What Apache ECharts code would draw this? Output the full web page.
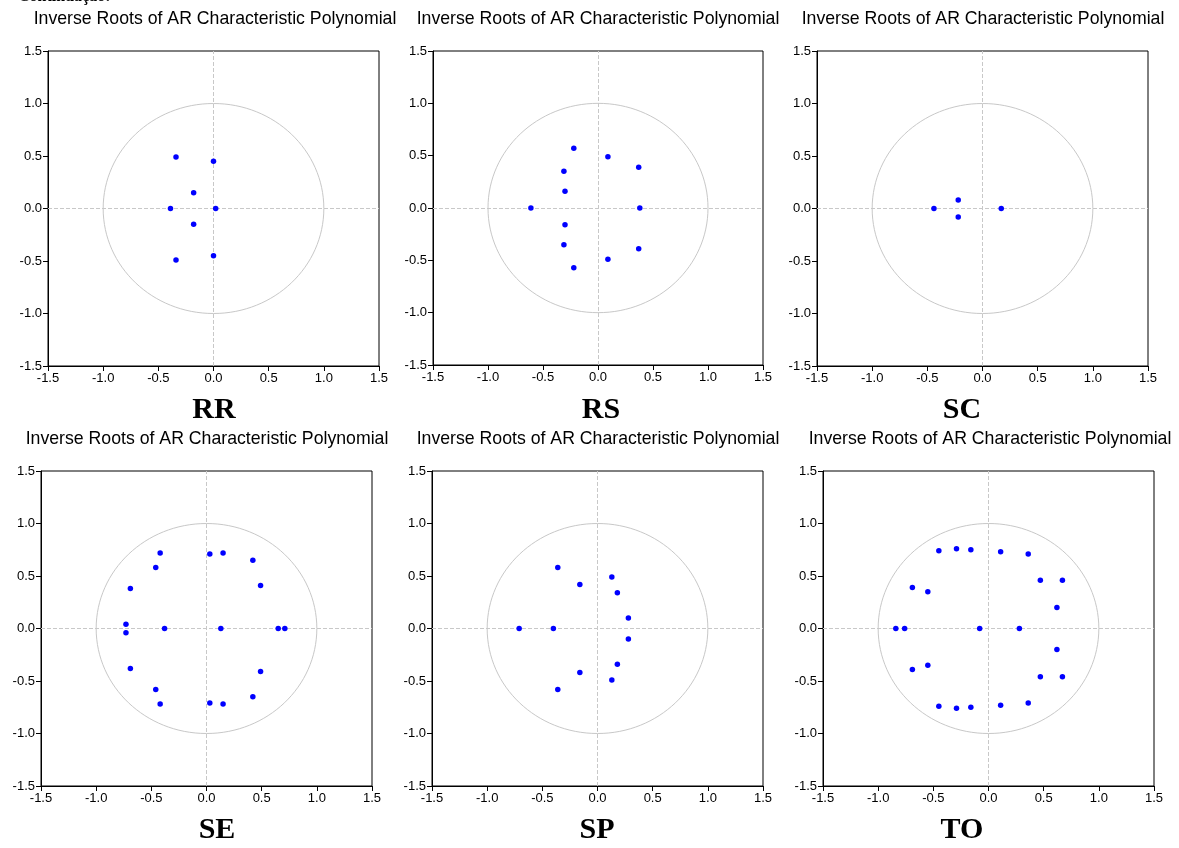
<!DOCTYPE html>
<html>
<head>
<meta charset="utf-8">
<script src="https://cdn.jsdelivr.net/npm/echarts@6/dist/echarts.min.js"></script>
<style>
html,body{margin:0;padding:0;background:#fff;}
#chart{width:1179px;height:848px;}
</style>
</head>
<body>
<div id="chart"></div>
<script>
const panelNames = ['RR', 'RS', 'SC', 'SE', 'SP', 'TO'];
const chartTitle = 'Inverse Roots of AR Characteristic Polynomial';
const headerText = 'Continuação:';
const tickValues = [-1.5, -1.0, -0.5, 0.0, 0.5, 1.0, 1.5];

const rootsRR = [
  [-0.34, 0.49], [-0.34, -0.49], [0.00, 0.45], [0.00, -0.45],
  [-0.18, 0.15], [-0.18, -0.15], [-0.39, 0.00], [0.02, 0.00]
];
const rootsRS = [
  [-0.22, 0.57], [-0.22, -0.57], [0.09, 0.49], [0.09, -0.49],
  [0.37, 0.39], [0.37, -0.39], [-0.31, 0.35], [-0.31, -0.35],
  [-0.30, 0.16], [-0.30, -0.16], [-0.61, 0.00], [0.38, 0.00]
];
const rootsSC = [
  [-0.44, 0.00], [-0.22, 0.08], [-0.22, -0.08], [0.17, 0.00]
];
const rootsSE = [
  [-0.42, 0.72], [-0.42, -0.72], [0.03, 0.71], [0.03, -0.71],
  [0.15, 0.72], [0.15, -0.72], [0.42, 0.65], [0.42, -0.65],
  [-0.46, 0.58], [-0.46, -0.58], [-0.69, 0.38], [-0.69, -0.38],
  [0.49, 0.41], [0.49, -0.41], [-0.73, 0.04], [-0.73, -0.04],
  [-0.38, 0.00], [0.13, 0.00], [0.65, 0.00], [0.71, 0.00]
];
const rootsSP = [
  [-0.36, 0.58], [-0.36, -0.58], [-0.16, 0.42], [-0.16, -0.42],
  [0.13, 0.49], [0.13, -0.49], [0.18, 0.34], [0.18, -0.34],
  [0.28, 0.10], [0.28, -0.10], [-0.71, 0.00], [-0.40, 0.00]
];
const rootsTO = [
  [-0.45, 0.74], [-0.45, -0.74], [-0.29, 0.76], [-0.29, -0.76],
  [-0.16, 0.75], [-0.16, -0.75], [0.11, 0.73], [0.11, -0.73],
  [0.36, 0.71], [0.36, -0.71], [-0.69, 0.39], [-0.69, -0.39],
  [-0.55, 0.35], [-0.55, -0.35], [0.47, 0.46], [0.47, -0.46],
  [0.67, 0.46], [0.67, -0.46], [0.62, 0.20], [0.62, -0.20],
  [-0.84, 0.00], [-0.76, 0.00], [-0.08, 0.00], [0.28, 0.00]
];
const allRoots = [rootsRR, rootsRS, rootsSC, rootsSE, rootsSP, rootsTO];

// ---- layout ----
const grids = [
  {left: 48, top: 51, width: 331, height: 315},
  {left: 433, top: 51, width: 330, height: 314},
  {left: 817, top: 51, width: 331, height: 315},
  {left: 41, top: 471, width: 331, height: 315},
  {left: 432, top: 471, width: 331, height: 315},
  {left: 823, top: 471, width: 331, height: 315}
];
const titlePos = [[215, 19], [598, 19], [983, 19], [207, 439], [598, 439], [990, 439]];
const namePos = [[214, 410], [601, 410], [962, 410], [217, 830], [597, 830], [962, 830]];

const chart = echarts.init(document.getElementById('chart'));

const labelFont = {fontFamily: 'Liberation Sans', fontSize: 13, color: '#000'};
const xAxes = [], yAxes = [], series = [], gridOpts = [], graphics = [];

grids.forEach((g, i) => {
  gridOpts.push(Object.assign({show: true, borderColor: '#000', borderWidth: 1, backgroundColor: '#fff'}, g));
  const axisCommon = {
    gridIndex: i, type: 'value', min: tickValues[0], max: tickValues[tickValues.length - 1], interval: 0.5,
    axisLine: {show: true, onZero: false, lineStyle: {color: '#000', width: 1}},
    axisTick: {show: true, inside: false, length: 5, lineStyle: {color: '#000'}},
    splitLine: {show: false},
    axisLabel: Object.assign({formatter: v => v.toFixed(1), showMinLabel: true, showMaxLabel: true, margin: 6}, labelFont)
  };
  xAxes.push(Object.assign({}, axisCommon, {position: 'bottom'}));
  yAxes.push(Object.assign({}, axisCommon, {position: 'left'}));

  // unit circle and zero reference lines, drawn through the axis scales
  series.push({
    type: 'custom', xAxisIndex: i, yAxisIndex: i, silent: true, z: 1,
    data: [[0, 0]],
    renderItem: (params, api) => {
      const c = api.coord([0, 0]);
      const s = api.size([1, 1]);
      return {type: 'ellipse', shape: {cx: c[0], cy: c[1], rx: s[0], ry: s[1]},
        style: {fill: 'none', stroke: '#c8c8c8', lineWidth: 1}};
    },
    markLine: {
      silent: true, symbol: 'none', label: {show: false}, z: 1,
      lineStyle: {color: '#c8c8c8', type: [4, 2], width: 1},
      emphasis: {disabled: true},
      data: [{xAxis: 0}, {yAxis: 0}]
    }
  });

  series.push({
    type: 'scatter', xAxisIndex: i, yAxisIndex: i, z: 5,
    symbol: 'circle', symbolSize: 5.5,
    itemStyle: {color: '#0000ff', opacity: 1},
    data: allRoots[i]
  });

  graphics.push({
    type: 'text', x: titlePos[i][0], y: titlePos[i][1],
    style: {text: chartTitle, fontFamily: 'Liberation Sans', fontSize: 17.7, fill: '#000',
      textAlign: 'center', textVerticalAlign: 'middle'}
  });
  graphics.push({
    type: 'text', x: namePos[i][0], y: namePos[i][1],
    style: {text: panelNames[i], fontFamily: 'Liberation Serif', fontWeight: 'bold', fontSize: 30, fill: '#000',
      textAlign: 'center', textVerticalAlign: 'middle'}
  });
});

graphics.push({
  type: 'text', x: 18, y: 5,
  style: {text: headerText, fontFamily: 'Liberation Serif', fontWeight: 'bold', fontSize: 16, fill: '#000',
    textAlign: 'left', textVerticalAlign: 'bottom'}
});

chart.setOption({
  animation: false,
  backgroundColor: '#fff',
  grid: gridOpts,
  xAxis: xAxes,
  yAxis: yAxes,
  series: series,
  graphic: graphics
});
</script>
</body>
</html>
